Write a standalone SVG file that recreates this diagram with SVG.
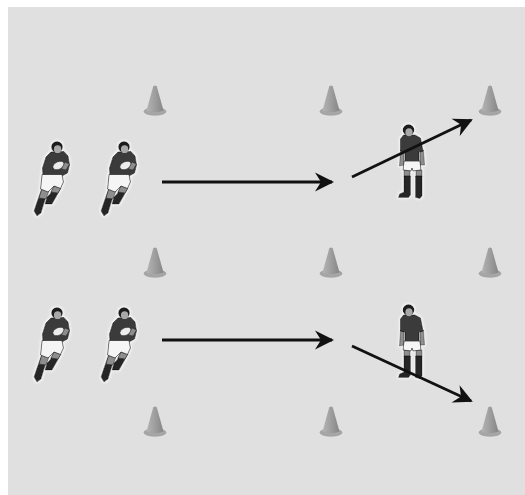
<svg xmlns="http://www.w3.org/2000/svg" xmlns:xlink="http://www.w3.org/1999/xlink" width="525" height="495" viewBox="0 0 525 495">
<style>
.shirt{fill:#3a3a3a;stroke:#161616;stroke-width:0.8;stroke-linejoin:round}
.hair{fill:#1b1b1b}
.face{fill:#a8a8a8}
.skin{fill:#8e8e8e;stroke:#333;stroke-width:0.6}
.shorts{fill:#f5f5f5;stroke:#333;stroke-width:0.8;stroke-linejoin:round}
.sock{fill:#262626;stroke:#111;stroke-width:0.6;stroke-linejoin:round}
.ball{fill:#ececec;stroke:#333;stroke-width:0.7}
.arrow{fill:none;stroke:#111;stroke-width:2.8;stroke-linecap:butt}
.player{filter:url(#halo)}
</style>
<defs>
<filter id="halo" x="-30%" y="-20%" width="160%" height="140%">
<feMorphology in="SourceAlpha" operator="dilate" radius="1.4" result="d"/>
<feGaussianBlur in="d" stdDeviation="0.8" result="b"/>
<feFlood flood-color="#f7f7f7"/>
<feComposite in2="b" operator="in" result="w"/>
<feMerge><feMergeNode in="w"/><feMergeNode in="SourceGraphic"/></feMerge>
</filter>
<marker id="head" markerUnits="userSpaceOnUse" viewBox="-18 -10 22 20" refX="0" refY="0" markerWidth="22" markerHeight="20" orient="auto">
<path d="M 2,0 L -17,-9.5 L -11,0 L -17,9.5 Z" fill="#111"/>
</marker>
<linearGradient id="coneGrad" x1="0" y1="0" x2="1" y2="0">
<stop offset="0" stop-color="#b4b4b4"/>
<stop offset="0.45" stop-color="#a0a0a0"/>
<stop offset="1" stop-color="#858585"/>
</linearGradient>
<g id="cone">
<ellipse cx="0" cy="25.5" rx="11" ry="3.8" fill="#a6a6a6" stroke="#989898" stroke-width="0.6"/>
<path d="M -1.8,0.5 Q 0,-1.3 1.8,0.5 L 8.5,24.5 Q 0,28 -8.5,24.5 Z" fill="url(#coneGrad)"/>
</g>
<g id="runner">
<path class="sock" d="M -15,41 L -9,44 L -13,56 L -16,66 L -20,69 L -23,64 L -20,55 Z"/>
<path class="skin" d="M -15,41 L -8,44 L -11,52 L -18,51 Z"/>
<path class="sock" d="M -3,39 L 4,41 L -1,50 L -5,57 L -12,57 L -10,50 L -7,47 Z"/>
<path class="skin" d="M -3,39 L 4,41 L 1,46 L -6,45 Z"/>
<path class="shirt" d="M -6,5 L 7,4.5 L 11,9 L 12.5,18 L 10.5,26 L 5,29 L -14,29.5 L -14.5,21 L -11,10 Z"/>
<path class="shorts" d="M -15,27.5 L 5,27.5 L 6.5,35 L 3.5,41.5 L -3,39 L -9,45 L -16.5,42 Z"/>
<ellipse class="ball" cx="1.5" cy="18.5" rx="6" ry="3.8" transform="rotate(-25 1.5 18.5)"/>
<path class="skin" d="M 8,15 L 12.5,17 L 9,23 L 4.5,22 Z"/>
<circle class="hair" cx="0" cy="0" r="5.8"/>
<ellipse class="face" cx="0.6" cy="2.2" rx="3.7" ry="3.9"/>
</g>
<g id="defender">
<path class="skin" d="M -4,40 L 2,40 L 2,47 L -4,47 Z"/>
<path class="skin" d="M 8,40 L 14,40 L 14,47 L 8,47 Z"/>
<path class="sock" d="M -4,46 L 2.5,46 L 2.5,65 L 0.5,67.5 L -9.5,67.5 L -8.5,64 L -4,62 Z"/>
<path class="sock" d="M 7.5,46 L 14,46 L 14,66 L 12,68.5 L 7.5,67.5 Z"/>
<path class="skin" d="M -7.5,20 L -4,20 L -4,35 L -8.5,36 Z"/>
<path class="skin" d="M 12,20 L 15.5,20 L 16.5,35 L 12,35 Z"/>
<path class="shirt" d="M -4.5,5 L 7,5 L 12.5,8 L 15,21 L 11,22 L 11,32 L -3,32 L -3,22 L -7.5,21 L -7.5,9 Z"/>
<path class="shorts" d="M -4,31 L 12,31 L 13,40 L 5,41 L 4,38 L 3,41 L -5,40 Z"/>
<circle class="hair" cx="0.5" cy="0" r="5.8"/>
<ellipse class="face" cx="1" cy="2.3" rx="3.6" ry="4"/>
</g>
</defs>

<rect x="8" y="7" width="517" height="488" fill="#e0e0e0"/>

<g id="cones">
<use id="cone-1" xlink:href="#cone" transform="translate(155,86)"/>
<use id="cone-2" xlink:href="#cone" transform="translate(331,86)"/>
<use id="cone-3" xlink:href="#cone" transform="translate(490,86)"/>
<use id="cone-4" xlink:href="#cone" transform="translate(155,248)"/>
<use id="cone-5" xlink:href="#cone" transform="translate(331,248)"/>
<use id="cone-6" xlink:href="#cone" transform="translate(490,248)"/>
<use id="cone-7" xlink:href="#cone" transform="translate(155,407)"/>
<use id="cone-8" xlink:href="#cone" transform="translate(331,407)"/>
<use id="cone-9" xlink:href="#cone" transform="translate(490,407)"/>
</g>

<g id="runner-1" class="player"><use xlink:href="#runner" transform="translate(57,147)"/></g>
<g id="runner-2" class="player"><use xlink:href="#runner" transform="translate(124,147)"/></g>
<g id="runner-3" class="player"><use xlink:href="#runner" transform="translate(57,313)"/></g>
<g id="runner-4" class="player"><use xlink:href="#runner" transform="translate(124,313)"/></g>
<g id="defender-1" class="player"><use xlink:href="#defender" transform="translate(408,130)"/></g>
<g id="defender-2" class="player"><use xlink:href="#defender" transform="translate(408,310)"/></g>

<g id="connectors">
<line class="arrow" x1="162" y1="182" x2="332" y2="182" marker-end="url(#head)"/>
<line class="arrow" x1="162" y1="340" x2="332" y2="340" marker-end="url(#head)"/>
<line class="arrow" x1="352" y1="177" x2="471" y2="120" marker-end="url(#head)"/>
<line class="arrow" x1="352" y1="346" x2="471" y2="401" marker-end="url(#head)"/>
</g>
</svg>
